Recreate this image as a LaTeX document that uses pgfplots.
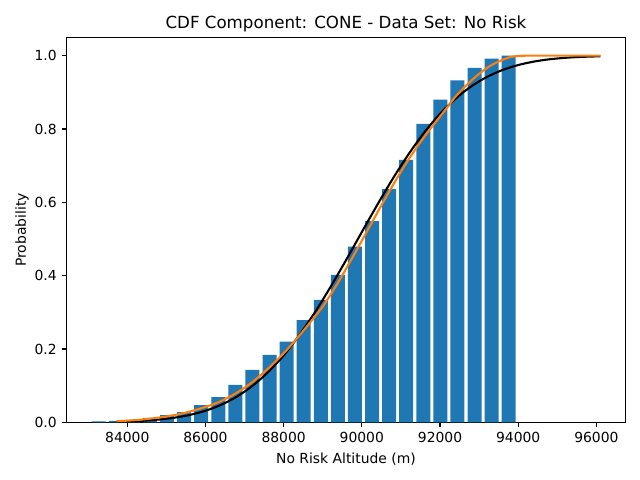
\documentclass[border=0pt]{standalone}
\usepackage{fontspec}
\setmainfont{DejaVu Sans}
\usepackage{pgfplots}
\pgfplotsset{compat=1.18}
\definecolor{c0}{HTML}{1F77B4}
\definecolor{c1}{HTML}{FF7F0E}
\begin{document}
\fontsize{10}{12}\selectfont
\begin{tikzpicture}
\path[use as bounding box] (0,0) rectangle (460.8pt,345.6pt);
\begin{axis}[
  at={(48.0pt,41.5pt)}, anchor=south west,
  scale only axis, width=402.2pt, height=277.2pt,
  xmin=82450, xmax=96739, ymin=0, ymax=1.05,
  xtick={84000,86000,88000,90000,92000,94000,96000},
  ytick={0,0.2,0.4,0.6,0.8,1.0},
  scaled x ticks=false, scaled y ticks=false,
  xticklabel style={/pgf/number format/1000 sep={}},
  yticklabel style={/pgf/number format/fixed, /pgf/number format/precision=1, /pgf/number format/fixed zerofill},
  /pgf/number format/assume math mode=true,
  tick align=outside, major tick length=3.5pt,
  tick style={black, line width=0.8pt},
  xtick pos=bottom, ytick pos=left,
  every axis/.append style={line width=0.8pt},
  title={CDF Component: CONE - Data Set: No Risk},
  title style={font=\fontsize{12}{14}\selectfont, at={(axis description cs:0.5,1.0008)}, anchor=base},
  xlabel={No Risk Altitude (m)},
  xlabel style={at={(axis description cs:0.5,-0.1057)}, anchor=base},
  ylabel={Probability},
  ylabel style={at={(axis description cs:-0.0729,0.5)}, anchor=base, rotate=0},
]
\addplot[ybar, bar width=358, fill=c0, draw=none] coordinates {
(83270,0.003) (83707,0.004) (84144,0.007) (84581,0.012) (85018,0.020)
(85455,0.028) (85892,0.047) (86329,0.069) (86766,0.102) (87203,0.143)
(87640,0.184) (88077,0.220) (88514,0.279) (88951,0.334) (89388,0.402)
(89825,0.479) (90262,0.549) (90699,0.637) (91136,0.716) (91573,0.814)
(92010,0.880) (92447,0.933) (92884,0.967) (93321,0.992) (93758,1.000)
};
\addplot[black, line width=1.5pt, smooth] coordinates {
(83730,0.00165) (84000,0.00248) (84400,0.00441) (84800,0.00757) (85200,0.01261)
(85600,0.02028) (86000,0.03166) (86400,0.04776) (86800,0.06996) (87200,0.09923)
(87600,0.1367) (88000,0.1827) (88400,0.2376) (88800,0.3002) (89200,0.3695)
(89600,0.4431) (90000,0.5190) (90400,0.5941) (90800,0.6660) (91200,0.7320)
(91600,0.7910) (92000,0.8413) (92400,0.8830) (92800,0.9164) (93200,0.9420)
(93600,0.9610) (94000,0.9745) (94400,0.9839) (94800,0.9902) (95200,0.9942)
(95600,0.9967) (96100,0.9984)
};
\addplot[c1, line width=1.5pt, smooth] coordinates {
(83730,0.003) (84200,0.006) (84581,0.010) (85000,0.016) (85432,0.025)
(85850,0.037) (86287,0.053) (86711,0.075) (87139,0.105) (87566,0.143)
(87990,0.187) (88333,0.228) (88589,0.261) (89014,0.318) (89441,0.390)
(89868,0.470) (90293,0.552) (90720,0.633) (91147,0.709) (91572,0.775)
(91999,0.834) (92237,0.866) (92426,0.892) (92851,0.937) (93278,0.972)
(93705,0.993) (93961,0.999) (94200,1.0) (94600,1.0) (95400,1.0) (96100,1.0)
};
\end{axis}
\end{tikzpicture}
\end{document}
